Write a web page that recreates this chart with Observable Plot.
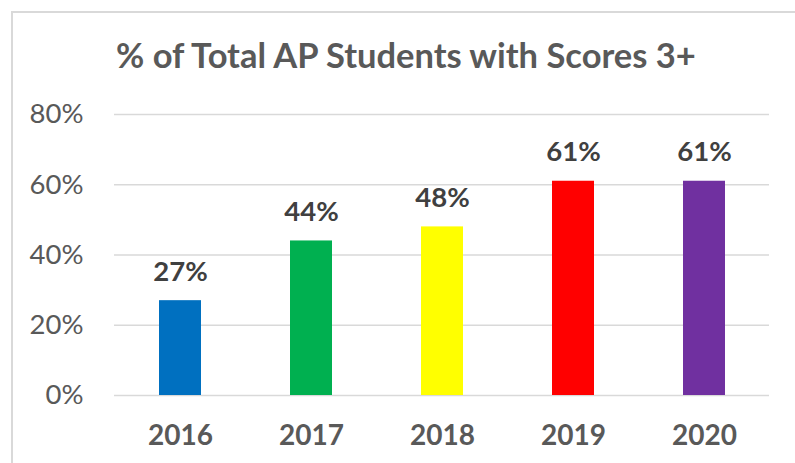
<!DOCTYPE html>
<html>
<head>
<meta charset="utf-8">
<script src="https://cdn.jsdelivr.net/npm/d3@7"></script>
<script src="https://cdn.jsdelivr.net/npm/@observablehq/plot@0.6"></script>
<style>
  html, body { margin: 0; padding: 0; background: #fff; }
  #wrap { position: relative; width: 795px; height: 463px; overflow: hidden; font-family: Lato, "Open Sans", sans-serif; }
  #frame { position: absolute; left: 11px; top: 11px; width: 820px; height: 500px; border-left: 2px solid #d9d9d9; border-top: 2px solid #d9d9d9; box-sizing: border-box; }
  #title { position: absolute; left: 116px; top: 37.5px; margin: 0; font: bold 34.5px Lato, sans-serif; line-height: 1; color: #595959; white-space: nowrap; }
  #chart { position: absolute; left: 0; top: 0; }
</style>
</head>
<body>
<div id="wrap">
  <div id="frame"></div>
  <div id="chart"></div>
  <div id="title">% of Total AP Students with Scores 3+</div>
</div>
<script>
const years = ["2016", "2017", "2018", "2019", "2020"];
const shares = [0.27, 0.44, 0.48, 0.61, 0.61];
const barColors = ["#0070C0", "#00B050", "#FFFF00", "#FF0000", "#7030A0"];
const yTicks = [0, 0.2, 0.4, 0.6, 0.8];

const data = years.map((year, i) => ({year, share: shares[i], color: barColors[i]}));
const pct = d3.format(".0%");

const chart = Plot.plot({
  width: 795,
  height: 463,
  marginTop: 114,
  marginBottom: 68,
  marginLeft: 114,
  marginRight: 26,
  style: {background: "transparent", fontFamily: "Lato, sans-serif"},
  x: {domain: years, paddingInner: 0.68, paddingOuter: 0.34, label: null},
  y: {domain: [0, 0.8], label: null},
  marks: [
    Plot.ruleY(yTicks, {stroke: "#d9d9d9", strokeWidth: 1.6}),
    Plot.barY(data, {x: "year", y: "share", fill: "color"}),
    Plot.text(data, {x: "year", y: "share", text: d => pct(d.share), lineAnchor: "bottom", dy: -20, fontSize: 27.5, fontWeight: "bold", fill: "#404040"}),
    Plot.axisY({ticks: yTicks, tickFormat: pct, tickSize: 0, tickPadding: 31, fontSize: 27.5, color: "#595959", label: null}),
    Plot.axisX({tickSize: 0, tickPadding: 30, fontSize: 28, fontWeight: "bold", color: "#595959", label: null})
  ]
});
document.getElementById("chart").appendChild(chart);
</script>
</body>
</html>
